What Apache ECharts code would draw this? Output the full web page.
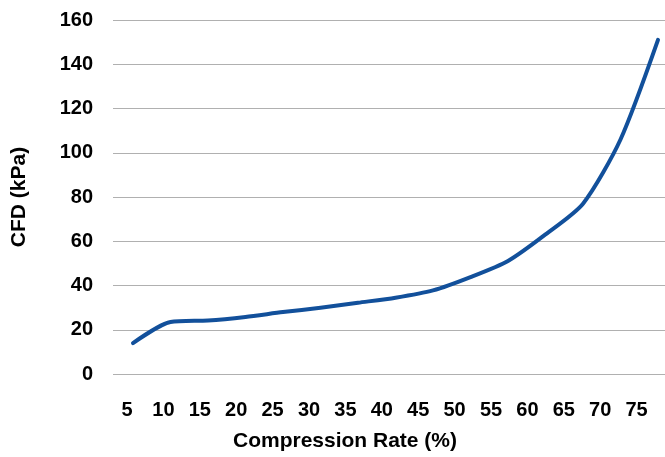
<!DOCTYPE html>
<html>
<head>
<meta charset="utf-8">
<script src="https://cdn.jsdelivr.net/npm/echarts@6/dist/echarts.min.js"></script>
<style>
html,body{margin:0;padding:0;background:#fff;}
#chart{width:665px;height:457px;}
</style>
</head>
<body>
<div id="chart"></div>
<script>
// Compression rate categories (x tick labels) and CFD values (kPa)
const compressionRate = [5, 10, 15, 20, 25, 30, 35, 40, 45, 50, 55, 60, 65, 70, 75];
const cfdValues = [14, 23.5, 24.2, 25.8, 28.0, 29.9, 32.2, 34.5, 37.8, 43.8, 51.1, 63.1, 77, 106, 151];
const yTicks = [0, 20, 40, 60, 80, 100, 120, 140, 160];

const chart = echarts.init(document.getElementById('chart'), null, {renderer: 'canvas'});
const fam = 'Liberation Sans, Arial, sans-serif';
const tickFont = {fontFamily: fam, fontWeight: 'bold', fontSize: 20, color: '#000'};

chart.setOption({
  animation: false,
  backgroundColor: '#fff',
  grid: {left: 113, right: 0, top: 20, bottom: 83},
  xAxis: [
    {
      type: 'value',
      min: 2.3333, max: 75.9333,
      axisLine: {show: false}, axisTick: {show: false},
      axisLabel: {show: false}, splitLine: {show: false}
    },
    {
      type: 'value',
      position: 'bottom',
      min: 3.077, max: 78.9,
      axisLine: {show: false}, axisTick: {show: false}, splitLine: {show: false},
      axisLabel: Object.assign({margin: 26, customValues: compressionRate}, tickFont),
      name: 'Compression Rate (%)',
      nameLocation: 'middle',
      nameGap: 57,
      nameTextStyle: {fontFamily: fam, fontWeight: 'bold', fontSize: 21, color: '#000', padding: [0, 88, 0, 0]}
    }
  ],
  yAxis: {
    type: 'value',
    min: yTicks[0], max: yTicks[yTicks.length - 1], interval: 20,
    axisLine: {show: false}, axisTick: {show: false},
    splitLine: {lineStyle: {color: '#b0b0b0', width: 1}},
    axisLabel: Object.assign({margin: 20}, tickFont),
    name: 'CFD (kPa)',
    nameLocation: 'middle',
    nameGap: 83,
    nameTextStyle: {fontFamily: fam, fontWeight: 'bold', fontSize: 21, color: '#000'}
  },
  series: [{
    type: 'line',
    xAxisIndex: 0,
    data: compressionRate.map((x, i) => [x, cfdValues[i]]),
    smooth: 0.25,
    symbol: 'none',
    lineStyle: {color: '#12509b', width: 4, cap: 'round', join: 'round'}
  }]
});
</script>
</body>
</html>
